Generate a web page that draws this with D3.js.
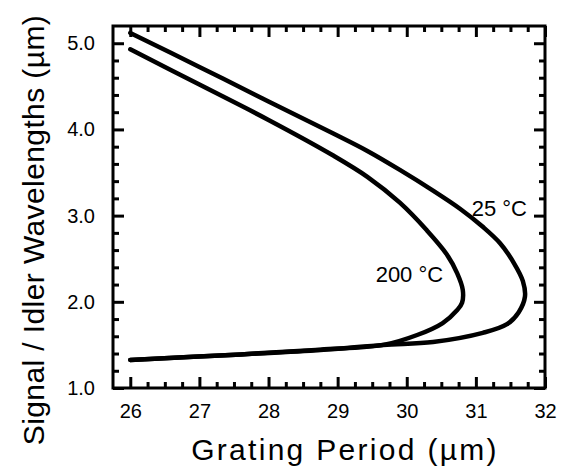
<!DOCTYPE html>
<html>
<head>
<meta charset="utf-8">
<script src="https://cdn.jsdelivr.net/npm/d3@7"></script>
<style>
    body { margin: 0; background: #fff; }
    text { font-family: "Liberation Sans", Arial, sans-serif; fill: #000; }
</style>
</head>
<body>
<div class="chart"></div>
<script>
// grating period (um) vs signal / idler wavelength (um)
const curve25 = [
    [26.0, 5.12], [27.0, 4.725], [28.0, 4.325], [28.93, 3.955], [29.43, 3.75],
    [29.9, 3.53], [30.38, 3.29], [30.77, 3.08], [31.1, 2.87], [31.35, 2.68],
    [31.55, 2.45], [31.68, 2.24], [31.71, 2.06], [31.62, 1.88], [31.45, 1.74],
    [31.10, 1.64], [30.38, 1.534], [29.66, 1.50], [28.75, 1.44], [27.6, 1.39],
    [26.0, 1.325]
]
const curve200 = [
    [26.0, 4.93], [27.0, 4.52], [28.0, 4.11], [28.93, 3.70], [29.43, 3.45],
    [29.9, 3.15], [30.29, 2.83], [30.58, 2.55], [30.73, 2.33], [30.81, 2.14],
    [30.80, 1.99], [30.73, 1.905], [30.52, 1.754], [30.15, 1.615], [29.66, 1.50],
    [28.75, 1.445], [27.6, 1.39], [26.0, 1.325]
]
const curveLabels = [
    { text: '25 \u00B0C', x: 30.94, y: 3.0 },
    { text: '200 \u00B0C', x: 29.55, y: 2.23 }
]

const xMajor = [26, 27, 28, 29, 30, 31, 32]
const xMinor = [26.25, 26.5, 26.75, 27.25, 27.5, 27.75, 28.25, 28.5, 28.75,
    29.25, 29.5, 29.75, 30.25, 30.5, 30.75, 31.25, 31.5, 31.75]
const yMajor = [1, 2, 3, 4, 5]
const yMinor = [1.2, 1.4, 1.6, 1.8, 2.2, 2.4, 2.6, 2.8, 3.2, 3.4, 3.6, 3.8,
    4.2, 4.4, 4.6, 4.8]

const width = 569, height = 475
const margin = { top: 26, left: 113, right: 24, bottom: 87 }

const svg = d3.select('.chart')
    .append('svg')
    .attr('width', width)
    .attr('height', height)

const x = d3.scaleLinear()
    .domain([25.75, 32])
    .range([margin.left, width - margin.right])

const y = d3.scaleLinear()
    .domain([1, 5.2])
    .range([height - margin.bottom, margin.top])

const x0 = x.range()[0], x1 = x.range()[1]
const y0 = y.range()[0], y1 = y.range()[1]

// inward ticks on all four sides
function ticks(axisFn, values, size, pos, labels) {
    const g = svg.append('g')
        .attr('transform', pos)
        .call(axisFn
            .tickValues(values)
            .tickSizeInner(-size)
            .tickSizeOuter(0)
            .tickPadding(labels ? 14 : 0)
            .tickFormat(labels || ''))
    g.select('.domain').remove()
    g.selectAll('line').attr('stroke', '#000').attr('stroke-width', 3)
    return g
}

const xb = ticks(d3.axisBottom(x), xMajor, 11, `translate(0,${y0})`, d3.format('d'))
ticks(d3.axisBottom(x), xMinor, 6, `translate(0,${y0})`)
ticks(d3.axisTop(x), xMajor, 11, `translate(0,${y1})`)
ticks(d3.axisTop(x), xMinor, 6, `translate(0,${y1})`)
const yl = ticks(d3.axisLeft(y), yMajor, 11, `translate(${x0},0)`, d3.format('.1f'))
ticks(d3.axisLeft(y), yMinor, 6, `translate(${x0},0)`)
ticks(d3.axisRight(y), yMajor, 11, `translate(${x1},0)`)
ticks(d3.axisRight(y), yMinor, 6, `translate(${x1},0)`)

xb.selectAll('text')
    .attr('font-size', 20)
    .attr('font-family', '"Liberation Sans", Arial, sans-serif')
    .attr('dy', '0.8em')
yl.selectAll('text')
    .attr('font-size', 20)
    .attr('font-family', '"Liberation Sans", Arial, sans-serif')
    .attr('dx', '-0.2em')

svg.append('rect')
    .attr('x', x0)
    .attr('y', y1)
    .attr('width', x1 - x0)
    .attr('height', y0 - y1)
    .attr('fill', 'none')
    .attr('stroke', '#000')
    .attr('stroke-width', 3)

const line = d3.line()
    .x(d => x(d[0]))
    .y(d => y(d[1]))
    .curve(d3.curveCatmullRom.alpha(0.5))

svg.selectAll('path.curve')
    .data([curve25, curve200])
    .enter()
    .append('path')
    .attr('class', 'curve')
    .attr('d', line)
    .attr('fill', 'none')
    .attr('stroke', '#000')
    .attr('stroke-width', 4.5)
    .attr('stroke-linecap', 'round')
    .attr('stroke-linejoin', 'round')

svg.selectAll('text.lbl')
    .data(curveLabels)
    .enter()
    .append('text')
    .attr('class', 'lbl')
    .attr('x', d => x(d.x))
    .attr('y', d => y(d.y))
    .attr('font-size', 22)
    .text(d => d.text)

svg.append('text')
    .attr('x', 345)
    .attr('y', 460)
    .attr('text-anchor', 'middle')
    .attr('font-size', 30)
    .attr('letter-spacing', 2.3)
    .text('Grating Period (\u00B5m)')

svg.append('text')
    .attr('transform', `translate(44,230) rotate(-90)`)
    .attr('text-anchor', 'middle')
    .attr('font-size', 30)
    .attr('letter-spacing', 0.4)
    .text('Signal / Idler Wavelengths (\u00B5m)')
</script>
</body>
</html>
